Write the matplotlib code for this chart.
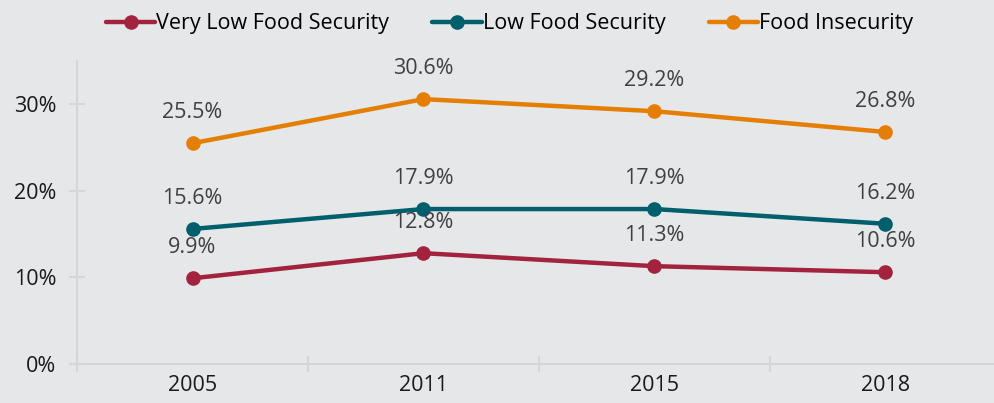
import matplotlib.pyplot as plt
from matplotlib.ticker import PercentFormatter

plt.rcParams['font.family'] = ['Open Sans', 'DejaVu Sans']

years = ['2005', '2011', '2015', '2018']
very_low = [9.9, 12.8, 11.3, 10.6]
low = [15.6, 17.9, 17.9, 16.2]
insecure = [25.5, 30.6, 29.2, 26.8]

series = [
    ('Very Low Food Security', very_low, '#A3233F'),
    ('Low Food Security', low, '#005F6D'),
    ('Food Insecurity', insecure, '#E57E04'),
]

bg = '#E6E7E9'
fig = plt.figure(figsize=(9.95, 4.03), dpi=100, facecolor=bg)
ax = fig.add_axes([0.0774, 0.0968, 0.9286, 0.7518], facecolor=bg)

x = range(len(years))
for name, vals, color in series:
    ax.plot(x, vals, color=color, lw=3.2, marker='o', ms=9.5,
            solid_capstyle='round', label=name)
    for xi, v in zip(x, vals):
        ax.annotate(f'{v:.1f}%', (xi, v), xytext=(0, 22), textcoords='offset points',
                    ha='center', va='center', fontsize=15.5, color='#404040')

ax.set_xlim(-0.5, 3.5)
ax.set_ylim(0, 35)
ax.set_yticks([0, 10, 20, 30])
ax.yaxis.set_major_formatter(PercentFormatter(decimals=0))
ax.set_xticks(list(x))
ax.set_xticklabels(years)
ax.set_xticks([-0.5, 0.5, 1.5, 2.5, 3.5], minor=True)

for s in ['top', 'right']:
    ax.spines[s].set_visible(False)
for s in ['left', 'bottom']:
    ax.spines[s].set_color('#D6D6D6')
    ax.spines[s].set_linewidth(1.5)

ax.tick_params(axis='x', which='major', length=0, labelsize=15.5, pad=8, colors='#1A1A1A')
ax.tick_params(axis='x', which='minor', length=12, direction='inout', color='#D6D6D6', width=1.5)
ax.tick_params(axis='y', length=12, direction='inout', color='#D6D6D6', width=1.5,
               labelsize=15.5, pad=9, labelcolor='#1A1A1A')

fig.legend(loc='upper center', bbox_to_anchor=(0.512, 1.015), ncol=3, frameon=False,
           fontsize=15.5, handlelength=2.3, handletextpad=0.05, columnspacing=2.0)

fig.savefig('out.png', dpi=100, facecolor=bg)
